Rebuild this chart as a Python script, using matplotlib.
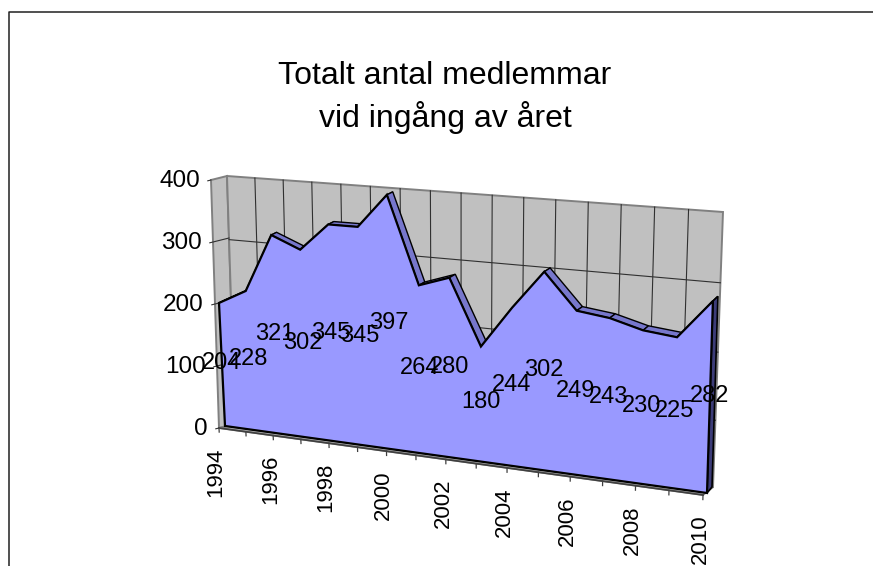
#3D style area chart, members per year
import matplotlib
matplotlib.use('Agg')
import matplotlib.pyplot as plt
from matplotlib.transforms import Transform
import numpy as np

plt.rcParams['font.family'] = ['Liberation Sans', 'DejaVu Sans']

years = list(range(1994, 2011))
members = [204, 228, 321, 302, 345, 345, 397, 264, 280, 180, 244, 302, 249, 243, 230, 225, 282]
value_ticks = [0, 100, 200, 300, 400]
year_ticks = years[::2]
title = 'Totalt antal medlemmar\nvid ingång av året'

YR = (1994, 2010)
VAL = (0, 400)
DEPTH = (0, 1)

wall_col = '#c0c0c0'
wall_edge = '#808080'
grid_col = '#303030'
area_col = '#9999ff'
top_col = '#7777cc'
cap_col = '#3c3c78'


class Persp(Transform):
    #maps a data rectangle on a picture quad: (x0,y0) (x1,y0) (x1,y1) (x0,y1)
    input_dims = 2
    output_dims = 2

    def __init__(self, quad, xr, yr):
        super().__init__()
        self.xr = xr
        self.yr = yr
        src = [(0, 0), (1, 0), (1, 1), (0, 1)]
        a = []
        b = []
        for (u, v), (x, y) in zip(src, quad):
            a.append([u, v, 1, 0, 0, 0, -u * x, -v * x])
            a.append([0, 0, 0, u, v, 1, -u * y, -v * y])
            b += [x, y]
        self.h = np.append(np.linalg.solve(np.array(a, float), np.array(b, float)), 1).reshape(3, 3)

    def transform_non_affine(self, values):
        values = np.asarray(values, float)
        u = (values[:, 0] - self.xr[0]) / (self.xr[1] - self.xr[0])
        v = (values[:, 1] - self.yr[0]) / (self.yr[1] - self.yr[0])
        p = np.column_stack([u, v, np.ones(len(u))]) @ self.h.T
        return p[:, :2] / p[:, 2:]


fig = plt.figure(figsize=(8.73, 5.66), dpi=100)
ax = fig.add_axes([0, 0, 1, 1])
ax.set_xlim(0, 873)
ax.set_ylim(566, 0)
ax.set_autoscale_on(False)
ax.axis('off')

# picture planes
wall = Persp([(235, 424), (713, 487), (723, 212), (227, 176)], YR, VAL)
side = Persp([(219, 428), (235, 424), (227, 176), (211, 180)], DEPTH, VAL)
floor = Persp([(219, 428), (703, 495), (713, 487), (235, 424)], YR, DEPTH)
axis_plane = Persp([(219, 428), (703, 495), (711, 221), (207, 185)], YR, VAL)
front = Persp([(225, 426), (707, 493), (715.5, 217), (213, 180)], YR, VAL)
back = Persp([(230, 423.5), (712, 487), (720.5, 213), (218, 177.5)], YR, VAL)
labels = Persp([(225, 423), (707, 490), (715.5, 216), (213, 180)], YR, VAL)

# chart frame
ax.plot([9, 9, 873], [566, 12, 12], color='#202020', lw=1.1, zorder=1)

# walls and floor
ax.fill([0, 1, 1, 0], [0, 0, 400, 400], transform=side + ax.transData, fc=wall_col, ec=wall_edge, lw=1.4, zorder=2)
ax.fill([1994, 2010, 2010, 1994], [0, 0, 1, 1], transform=floor + ax.transData, fc=wall_col, ec=wall_edge, lw=1.4, zorder=2)
ax.fill([1994, 2010, 2010, 1994], [0, 0, 400, 400], transform=wall + ax.transData, fc=wall_col, ec=wall_edge, lw=1.4, zorder=2)

for y in years[1:-1]:
    ax.plot([y, y], [0, 400], transform=wall + ax.transData, color=grid_col, lw=0.8, zorder=3)
for v in value_ticks[1:-1]:
    ax.plot([1994, 2010], [v, v], transform=wall + ax.transData, color=grid_col, lw=0.8, zorder=3)
    ax.plot([-0.2, 1], [v, v], transform=side + ax.transData, color=grid_col, lw=0.8, zorder=3)
ax.plot([-0.2, 0], [400, 400], transform=side + ax.transData, color=grid_col, lw=0.8, zorder=3)
ax.plot([-0.2, 0], [0, 0], transform=side + ax.transData, color=grid_col, lw=0.8, zorder=3)

# floor edge and x ticks
ax.plot([1994, 2010], [0, 0], transform=axis_plane + ax.transData, color='#404040', lw=1.2, zorder=3)
for y in years:
    ax.plot([y, y], [0, -7], transform=axis_plane + ax.transData, color='#404040', lw=0.9, zorder=3)

# area: top faces from the back, then the front polygon
fr = front + ax.transData
fr_pts = front.transform(np.column_stack([years, members]))
bk_pts = back.transform(np.column_stack([years, members]))
for i in range(len(years) - 1):
    quad = np.array([fr_pts[i], fr_pts[i + 1], bk_pts[i + 1], bk_pts[i]])
    ax.fill(quad[:, 0], quad[:, 1], fc=top_col, ec='black', lw=1.0, zorder=4)

end_f = front.transform([(2010, 0), (2010, members[-1])])
end_b = back.transform([(2010, 0), (2010, members[-1])])
cap = np.array([end_f[0], end_f[1], end_b[1], end_b[0]])
ax.fill(cap[:, 0], cap[:, 1], fc=cap_col, ec='black', lw=1.2, zorder=4)

ax.fill(years + [2010, 1994], members + [0, 0], transform=fr, fc=area_col, ec='black', lw=1.6, joinstyle='miter', zorder=5)

# text
ax.text(445, 97.5, title, ha='center', va='center', fontsize=23, linespacing=1.42, zorder=8)
for v in value_ticks:
    ax.annotate(str(v), xy=(0, v), xycoords=side + ax.transData, xytext=(-8, -1), textcoords='offset points',
                ha='right', va='center', fontsize=17.5, zorder=8)
for y in year_ticks:
    ax.annotate(str(y), xy=(y, 0), xycoords=axis_plane + ax.transData, xytext=(-2, -14), textcoords='offset points',
                ha='center', va='top', rotation=90, fontsize=16, zorder=8, annotation_clip=False)
for y, m in zip(years, members):
    ax.text(y, m / 2, str(m), transform=labels + ax.transData, ha='center', va='center', fontsize=17, zorder=8)

fig.savefig('out.png', dpi=100)
